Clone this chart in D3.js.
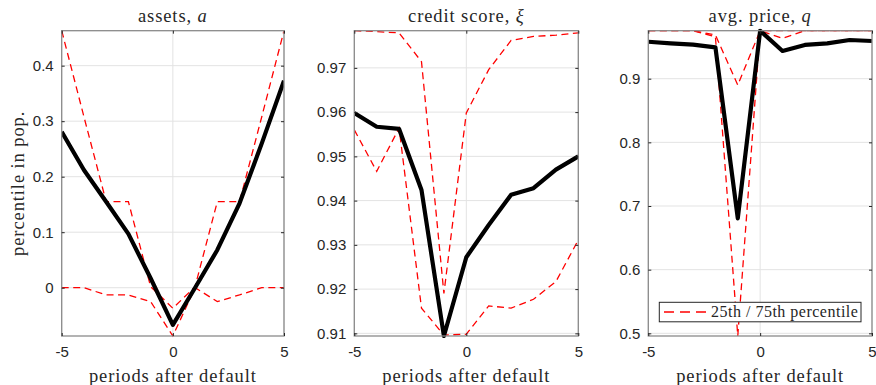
<!DOCTYPE html>
<meta charset="utf-8">
<style>
body { margin: 0; background: #fff; }
svg { display: block; }
.tick text { font-family: "Liberation Sans", Arial, sans-serif; font-size: 15px; fill: #262626; }
.lbl { font-family: "Liberation Serif", "Times New Roman", serif; font-size: 18.5px; letter-spacing: 0.9px; fill: #262626; }
.grid line { stroke: #e3e3e3; stroke-width: 1; }
.frame { fill: none; stroke: #8a8a8a; stroke-width: 1.3; }
.p75, .p25 { fill: none; stroke: #ff0000; stroke-width: 1.3; stroke-dasharray: 7,4.5; }
.med { fill: none; stroke: #000; stroke-width: 4.2; stroke-linejoin: round; }
</style>
<svg width="876" height="385"></svg>
<script src="https://d3js.org/d3.v7.min.js"></script>
<script>

var periods = [-5, -4, -3, -2, -1, 0, 1, 2, 3, 4, 5];

// assets, a
var assetsMed = [0.281, 0.212, 0.155, 0.097, 0.017, -0.067, 0.0, 0.068, 0.152, 0.26, 0.373];
var assetsP75 = [0.463, 0.308, 0.155, 0.155, 0.002, -0.037, 0.002, 0.155, 0.155, 0.308, 0.463];
var assetsP25 = [0.0, 0.0, -0.013, -0.013, -0.025, -0.087, 0.0, -0.025, -0.013, 0.0, 0.0];

// credit score, xi
var creditMed = [0.9598, 0.9567, 0.9562, 0.9424, 0.9094, 0.9272, 0.9345, 0.9413, 0.9428, 0.947, 0.950];
var creditP75 = [0.9784, 0.9782, 0.9779, 0.9714, 0.919, 0.9598, 0.9696, 0.9762, 0.9771, 0.9774, 0.9779];
var creditP25 = [0.956, 0.9466, 0.9564, 0.9157, 0.9096, 0.9098, 0.9162, 0.9157, 0.9177, 0.9217, 0.9311];

// avg. price, q
var priceMed = [0.958, 0.9556, 0.9534, 0.9493, 0.6807, 0.9754, 0.9435, 0.953, 0.9556, 0.9608, 0.9592];
var priceP75 = [0.9754, 0.9754, 0.9754, 0.9687, 0.890, 0.9754, 0.9635, 0.9754, 0.9754, 0.9754, 0.9754];
var priceP25 = [0.9754, 0.9754, 0.9754, 0.966, 0.4958, 0.9754, 0.9754, 0.9754, 0.9754, 0.9754, 0.9754];

var xTicks = [-5, 0, 5];
var assetsTicks = [0, 0.1, 0.2, 0.3, 0.4];
var creditTicks = [0.91, 0.92, 0.93, 0.94, 0.95, 0.96, 0.97];
var priceTicks = [0.5, 0.6, 0.7, 0.8, 0.9];

var panels = [
  {title: ["assets, ", "a"], left: 61.7, right: 284, dom: [-0.087, 0.463], ticks: assetsTicks, fmt: d3.format(".1~f"),
   med: assetsMed, p75: assetsP75, p25: assetsP25, ylabel: true},
  {title: ["credit score, ", "ξ"], left: 354.3, right: 578.3, dom: [0.9094, 0.9784], ticks: creditTicks, fmt: d3.format(".2f"),
   med: creditMed, p75: creditP75, p25: creditP25},
  {title: ["avg. price, ", "q"], left: 648.3, right: 872, dom: [0.4958, 0.9754], ticks: priceTicks, fmt: d3.format(".1f"),
   med: priceMed, p75: priceP75, p25: priceP25, legend: true}
];

var svg = d3.select("svg"),
    plotTop = 30.7, plotBottom = 336;

function xfmt(d) { return String(d); }  // plain hyphen minus, like the original

panels.forEach(function(p, i) {
  var x = d3.scaleLinear().domain([-5, 5]).range([p.left, p.right]),
      y = d3.scaleLinear().domain(p.dom).range([plotBottom, plotTop]);

  var g = svg.append("g");
  var clipId = "clip" + i;
  g.append("clipPath").attr("id", clipId)
    .append("rect").attr("x", p.left).attr("y", plotTop - 2)
      .attr("width", p.right - p.left).attr("height", plotBottom - plotTop + 4);

  // grid
  var grid = g.append("g").attr("class", "grid");
  grid.selectAll(".gy").data(p.ticks).enter().append("line")
      .attr("x1", p.left).attr("x2", p.right)
      .attr("y1", function(d) { return y(d); }).attr("y2", function(d) { return y(d); });
  grid.selectAll(".gx").data(xTicks).enter().append("line")
      .attr("y1", plotTop).attr("y2", plotBottom)
      .attr("x1", function(d) { return x(d); }).attr("x2", function(d) { return x(d); });

  var line = d3.line()
      .x(function(d, j) { return x(periods[j]); })
      .y(function(d) { return y(d); });

  var plot = g.append("g").attr("clip-path", "url(#" + clipId + ")");
  plot.append("path").datum(p.p25).attr("class", "p25").attr("d", line);
  plot.append("path").datum(p.p75).attr("class", "p75").attr("d", line);
  plot.append("path").datum(p.med).attr("class", "med").attr("d", line);

  g.append("rect").attr("class", "frame")
      .attr("x", p.left).attr("y", plotTop)
      .attr("width", p.right - p.left).attr("height", plotBottom - plotTop);

  // axes, ticks inward
  g.append("g").attr("transform", "translate(" + p.left + ",0)")
      .call(d3.axisLeft(y).tickValues(p.ticks).tickFormat(p.fmt).tickSizeInner(-3).tickSizeOuter(0).tickPadding(8))
      .call(function(a) { a.select(".domain").remove(); a.selectAll("line").attr("stroke", "#262626"); });
  g.append("g").attr("transform", "translate(" + p.right + ",0)")
      .call(d3.axisRight(y).tickValues(p.ticks).tickSizeInner(-3).tickSizeOuter(0).tickFormat(""))
      .call(function(a) { a.select(".domain").remove(); a.selectAll("line").attr("stroke", "#262626"); });
  g.append("g").attr("transform", "translate(0," + plotBottom + ")")
      .call(d3.axisBottom(x).tickValues(xTicks).tickFormat(xfmt).tickSizeInner(-3).tickSizeOuter(0).tickPadding(10))
      .call(function(a) { a.select(".domain").remove(); a.selectAll("line").attr("stroke", "#262626"); });
  g.append("g").attr("transform", "translate(0," + plotTop + ")")
      .call(d3.axisTop(x).tickValues(xTicks).tickSizeInner(-3).tickSizeOuter(0).tickFormat(""))
      .call(function(a) { a.select(".domain").remove(); a.selectAll("line").attr("stroke", "#262626"); });

  var cx = (p.left + p.right) / 2;
  var t = g.append("text").attr("class", "lbl").attr("x", cx).attr("y", 22).attr("text-anchor", "middle");
  t.append("tspan").text(p.title[0]);
  t.append("tspan").attr("font-style", "italic").text(p.title[1]);

  g.append("text").attr("class", "lbl").attr("x", cx).attr("y", 382)
      .attr("text-anchor", "middle").text("periods after default");

  if (p.ylabel) {
    g.append("text").attr("class", "lbl")
        .attr("transform", "translate(24," + (plotTop + plotBottom) / 2 + ") rotate(-90)")
        .attr("text-anchor", "middle").text("percentile in pop.");
  }

  if (p.legend) {
    var lg = g.append("g");
    lg.append("rect").attr("x", 659.3).attr("y", 302.3).attr("width", 201.7).attr("height", 19.5)
        .attr("fill", "#fff").attr("stroke", "#262626").attr("stroke-width", 1);
    lg.append("line").attr("class", "p75").attr("x1", 664).attr("x2", 706)
        .attr("y1", 312).attr("y2", 312).style("stroke-dasharray", "10,6");
    lg.append("text").attr("class", "lbl").style("font-size", "16px").style("letter-spacing", "0.5px")
        .attr("x", 711).attr("y", 317).text("25th / 75th percentile");
  }
});

</script>
